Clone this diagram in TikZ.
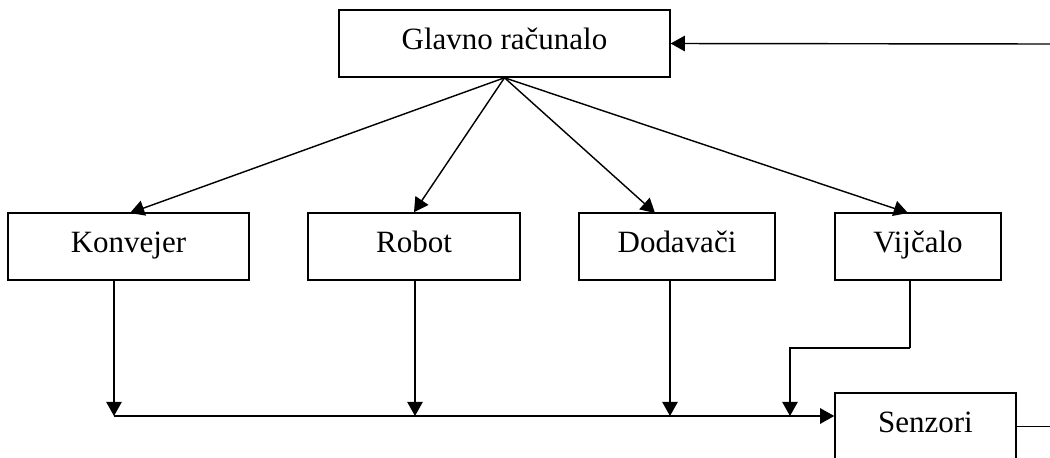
\documentclass[tikz,border=0pt]{standalone}
\usepackage{fontspec}
\setmainfont{Liberation Serif}
\usetikzlibrary{arrows.meta}
\begin{document}
\begin{tikzpicture}[x=0.01361cm,y=-0.01361cm,
  box/.style={draw,line width=0.6pt,minimum height=67*0.387pt,inner sep=0pt,
    text height=8pt,text depth=3pt,font=\fontsize{12}{14}\selectfont},
  arr/.style={line width=0.55pt,-{Triangle[length=5.5pt,width=6pt]}},
  lin/.style={line width=0.55pt}]
\clip (0,0) rectangle (1050,458);

\node[box,minimum width=331*0.387pt] (glavno) at (504.5,43.5) {Glavno računalo};
\node[box,minimum width=241*0.387pt] (konvejer) at (128.5,246.5) {Konvejer};
\node[box,minimum width=212*0.387pt] (robot) at (414,246.5) {Robot};
\node[box,minimum width=196*0.387pt] (dodavaci) at (677,246.5) {Dodavači};
\node[box,minimum width=166*0.387pt] (vijcalo) at (918,246.5) {Vijčalo};
\node[box,minimum width=181*0.387pt] (senzori) at (925.5,426.5) {Senzori};

% from the main computer
\coordinate (t1) at (130,213);
\coordinate (t3) at (655,213);
\coordinate (t4) at (908,213);
\draw[arr] (glavno.south) -- (t1);
\draw[arr] (glavno.south) -- (robot.north);
\draw[arr] (glavno.south) -- (t3);
\draw[arr] (glavno.south) -- (t4);

% down to the sensor line
\coordinate (b1) at (114,416);
\coordinate (b2) at (415,416);
\coordinate (b3) at (670,416);
\coordinate (b4) at (790,416);
\coordinate (v1) at (910,348);
\draw[arr] (konvejer.south -| b1) -- (b1);
\draw[arr] (robot.south -| b2) -- (b2);
\draw[arr] (dodavaci.south -| b3) -- (b3);
\draw[lin] (vijcalo.south -| v1) -- (v1);
\draw[arr] (v1) -| (b4);
\draw[arr] (b1) -- (senzori.west |- b1);

% feedback
\coordinate (fb1) at (1050,44);
\coordinate (fb2) at (1050,426.5);
\draw[arr] (fb1) -- (glavno.east);
\draw[lin] (senzori.east) -- (fb2);
\end{tikzpicture}
\end{document}
